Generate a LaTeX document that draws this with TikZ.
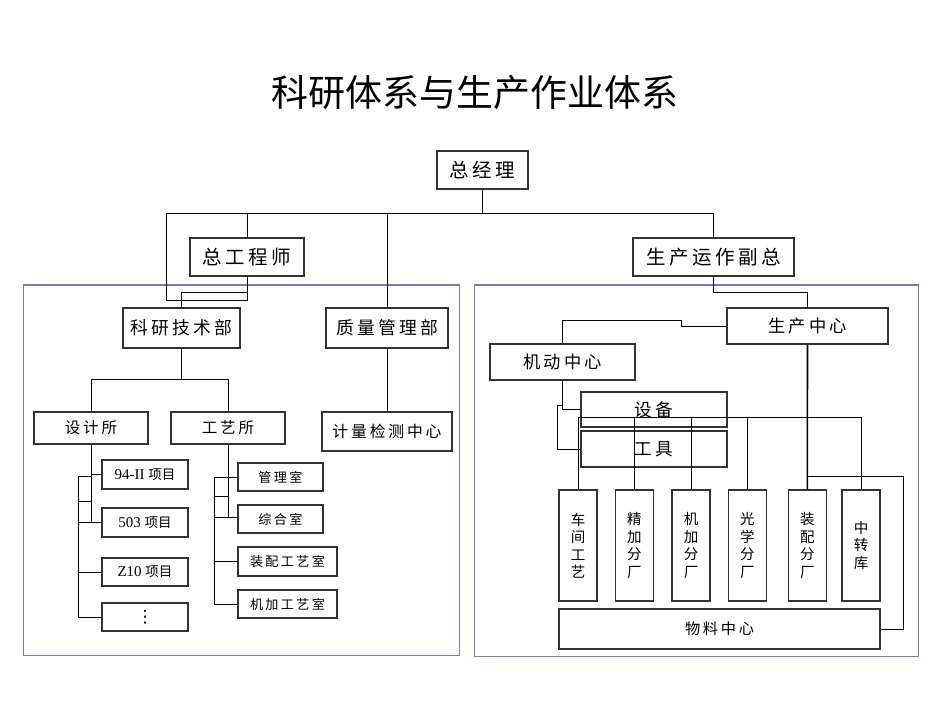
\documentclass[tikz,border=0pt]{standalone}
\usepackage{fontspec}
\setmainfont{Liberation Serif}
\newfontfamily\cjk{Noto Sans CJK SC}
\newfontfamily\cjks[LetterSpace=18]{Noto Sans CJK SC}
\newfontfamily\lat{Liberation Serif}
\newfontfamily\dvs{DejaVu Sans}
\newcommand\myfs[1]{\fontsize{#1}{#1}\selectfont}
\definecolor{frameblue}{RGB}{120,120,195}
\begin{document}
\begin{tikzpicture}[x=1pt,y=-1pt,
  box/.style={draw=black!80, line width=1.1pt, fill=white, inner sep=0pt},
  vbox/.style={box, minimum width=38, minimum height=111, align=center, font=\cjk\fontsize{14.5}{17.5}\selectfont},
  ln/.style={draw=black, line width=0.9pt},
  thk/.style={draw=black, line width=1.6pt},
  frame/.style={draw=frameblue, line width=1.5pt}]
\useasboundingbox (0,0) rectangle (950,713);
\fill[white] (0,0) rectangle (950,713);

% title
\node[font=\cjk\myfs{37}, inner sep=0pt] (title) at (475,93) {科研体系与生产作业体系};

% blue frames
\draw[frame] (23.3,285) rectangle (459.3,655.7);
\draw[frame] (474.3,285) rectangle (918.3,656.7);

% top level
\node[box, minimum width=91, minimum height=38, font=\cjks\myfs{19.5}] (zjl) at (482.5,170) {总经理};
\node[box, minimum width=114, minimum height=38, font=\cjks\myfs{19.5}] (zgcs) at (247,257) {总工程师};
\node[box, minimum width=161, minimum height=38, font=\cjks\myfs{19.5}] (sczf) at (713.5,257) {生产运作副总};

% left block
\node[box, minimum width=117, minimum height=40, font=\cjks\myfs{17.8}] (kyjs) at (181.5,328) {科研技术部};
\node[box, minimum width=122, minimum height=40, font=\cjks\myfs{17.8}] (zlgl) at (387,328) {质量管理部};
\node[box, minimum width=114, minimum height=32, font=\cjks\myfs{15.5}] (sjs) at (91,428) {设计所};
\node[box, minimum width=114, minimum height=32, font=\cjks\myfs{15.5}] (gys) at (228,428) {工艺所};
\node[box, minimum width=130, minimum height=39, font=\cjks\myfs{15.8}] (jljc) at (387,431.5) {计量检测中心};

\node[box, minimum width=86, minimum height=29, font=\myfs{15}] (p94) at (145,474.5) {{\lat 94-II} {\cjk\myfs{13.5}项目}};
\node[box, minimum width=86, minimum height=29, font=\myfs{15}] (p503) at (145,522.5) {{\lat 503} {\cjk\myfs{13.5}项目}};
\node[box, minimum width=86, minimum height=28, font=\myfs{15}] (pz10) at (145,572) {{\lat Z10} {\cjk\myfs{13.5}项目}};
\node[box, minimum width=86, minimum height=28, font=\dvs\myfs{17}] (pdots) at (145,617) {⋮};

\node[box, minimum width=85, minimum height=28, font=\cjks\myfs{13.1}] (glx) at (280.5,477) {管理室};
\node[box, minimum width=85, minimum height=28, font=\cjks\myfs{13.1}] (zhs) at (280.5,519) {综合室};
\node[box, minimum width=99, minimum height=29, font=\cjks\myfs{13.1}] (zpgy) at (287.5,561.5) {装配工艺室};
\node[box, minimum width=99, minimum height=28, font=\cjks\myfs{13.1}] (jjgy) at (287.5,604) {机加工艺室};

% right block
\node[box, minimum width=161, minimum height=36, font=\cjks\myfs{17.3}] (sczx) at (807.5,326) {生产中心};
\node[box, minimum width=145, minimum height=36, font=\cjks\myfs{17.3}] (jdzx) at (562.5,362) {机动中心};
\node[box, minimum width=146, minimum height=35, font=\cjks\myfs{17.6}] (sb) at (654,409.5) {设备};
\node[box, minimum width=146, minimum height=36, font=\cjks\myfs{17.6}] (gj) at (654,449) {工具};

\node[vbox] (cjgy) at (578,545.5) {车\\间\\工\\艺};
\node[vbox] (jjfc) at (634.3,545.5) {精\\加\\分\\厂};
\node[vbox] (jjfc2) at (691,545.5) {机\\加\\分\\厂};
\node[vbox] (gxfc) at (747.3,545.5) {光\\学\\分\\厂};
\node[vbox] (zpfc) at (807.3,545.5) {装\\配\\分\\厂};
\node[vbox] (zzk) at (861,545.5) {中\\转\\库};
\node[box, minimum width=321, minimum height=40, font=\cjks\myfs{15.2}] (wlzx) at (719.5,629) {物料中心};

% junction coordinates
\coordinate (b0) at (482.5,213);
\coordinate (bL) at (166.7,213);
\coordinate (bR) at (713.5,213);
\coordinate (bG) at (247,213);
\coordinate (bQ) at (387,213);
\coordinate (g1) at (166.7,300);
\coordinate (k1) at (247,292.3);
\coordinate (k2) at (181.5,379.3);
\coordinate (kL) at (91,379.3);
\coordinate (kR) at (228,379.3);
\coordinate (s1) at (91,522.3);
\coordinate (s2) at (78.3,476);
\coordinate (s3) at (78.3,617);
\coordinate (s4) at (78.3,501);
\coordinate (s5) at (91,501);
\coordinate (s6) at (91,474.5);
\coordinate (t1) at (228,517.7);
\coordinate (t2) at (214,477);
\coordinate (t3) at (214,604);
\coordinate (t4) at (214,496.7);
\coordinate (t5) at (228,496.7);
\coordinate (r1) at (807.5,292.3);
\coordinate (r2) at (681,320.3);
\coordinate (r3) at (562.5,320.3);
\coordinate (m1) at (562.5,409.5);
\coordinate (m2) at (562.5,405.3);
\coordinate (m3) at (557.7,405.3);
\coordinate (h1) at (578,417.3);
\coordinate (h2) at (861,417.3);
\coordinate (w1) at (807.5,476.7);
\coordinate (w2) at (903.3,476.7);

% connectors, top
\draw[ln] (zjl.south) -- (b0);
\draw[ln] (bL) -- (bR);
\draw[ln] (bG) -- (zgcs.north);
\draw[ln] (bQ) -- (zlgl.north);
\draw[ln] (bR) -- (sczf.north);
\draw[ln] (zgcs.south) |- (g1) -- (bL);
\draw[ln] (k1) -| (kyjs.north);

% left block connectors
\draw[ln] (kyjs.south) -- (k2);
\draw[ln] (kL) -- (kR);
\draw[ln] (kL) -- (sjs.north);
\draw[ln] (kR) -- (gys.north);
\draw[ln] (zlgl.south) -- (jljc.north);

\draw[ln] (sjs.south) -- (s1);
\draw[ln] (s6) -- (p94.west);
\draw[ln] (s2) rectangle (s1);
\draw[ln] (s4) -- (s5);
\draw[ln] (s2) -- (s3);
\draw[ln] (s2 |- p503.west) -- (p503.west);
\draw[ln] (s2 |- pz10.west) -- (pz10.west);
\draw[ln] (s3) -- (pdots.west);

\draw[ln] (gys.south) -- (t1);
\draw[ln] (t2) rectangle (t1);
\draw[ln] (t4) -- (t5);
\draw[ln] (t2) -- (t3);
\draw[ln] (t2) -- (glx.west);
\draw[ln] (t1) -- (zhs.west |- t1);
\draw[ln] (t2 |- zpgy.west) -- (zpgy.west);
\draw[ln] (t3) -- (jjgy.west);

% right block connectors
\draw[ln] (sczf.south) |- (r1) -- (sczx.north);
\draw[ln] (sczx.west) -| (r2) -- (r3) -- (jdzx.north);
\draw[ln] (jdzx.south) -- (m1) -- (sb.west);
\draw[ln] (m2) -- (m3) |- (gj.west);
\draw[thk] (sczx.south) -- (zpfc.north);
\draw[ln] (h1) -- (h2);
\draw[ln] (h1) -- (cjgy.north);
\draw[ln] (h1 -| jjfc.north) -- (jjfc.north);
\draw[ln] (h1 -| jjfc2.north) -- (jjfc2.north);
\draw[ln] (h1 -| gxfc.north) -- (gxfc.north);
\draw[ln] (h2) -- (zzk.north);
\draw[ln] (w1) -- (w2) |- (wlzx.east);
\end{tikzpicture}
\end{document}
